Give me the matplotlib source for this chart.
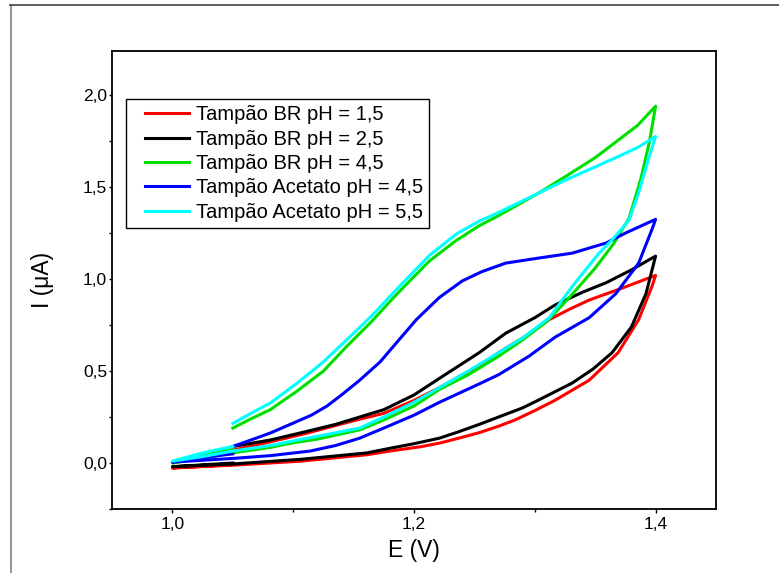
import matplotlib
matplotlib.use("Agg")
import matplotlib.pyplot as plt
from matplotlib.lines import Line2D
from matplotlib.legend_handler import HandlerLine2D
from matplotlib.ticker import MultipleLocator, FuncFormatter

plt.rcParams['font.family'] = ['Liberation Sans', 'DejaVu Sans']

# --- valores lidos do voltamograma (E em V, I em uA) ---
# varredura direta (1,05 -> 1,4)
e_ida_a = [1.05, 1.065, 1.081, 1.103, 1.125, 1.144, 1.165, 1.185, 1.213, 1.235,
           1.254, 1.27, 1.303, 1.326, 1.35, 1.367, 1.385, 1.40]
i_ida_ciano = [0.215, 0.27, 0.326, 0.433, 0.55, 0.668, 0.80, 0.94, 1.13, 1.245,
               1.315, 1.362, 1.467, 1.54, 1.61, 1.66, 1.715, 1.775]
i_ida_verde = [0.19, 0.24, 0.29, 0.39, 0.50, 0.632, 0.77, 0.913, 1.10, 1.21,
               1.29, 1.345, 1.467, 1.56, 1.66, 1.745, 1.835, 1.94]

e_ida_azul = [1.05, 1.065, 1.081, 1.10, 1.115, 1.128, 1.14, 1.155, 1.172, 1.185,
              1.202, 1.221, 1.24, 1.256, 1.276, 1.303, 1.331, 1.359, 1.375, 1.40]
i_ida_azul = [0.09, 0.125, 0.163, 0.217, 0.26, 0.31, 0.37, 0.45, 0.55, 0.65,
              0.78, 0.90, 0.99, 1.04, 1.087, 1.114, 1.141, 1.196, 1.25, 1.325]

e_ida_preto = [1.05, 1.081, 1.11, 1.135, 1.155, 1.175, 1.2, 1.221, 1.254, 1.276,
               1.30, 1.317, 1.34, 1.359, 1.38, 1.40]
i_ida_preto = [0.09, 0.125, 0.17, 0.21, 0.25, 0.29, 0.37, 0.46, 0.60, 0.706,
               0.79, 0.86, 0.93, 0.98, 1.05, 1.125]

e_ida_verm = [1.05, 1.081, 1.11, 1.15, 1.175, 1.2, 1.221, 1.254, 1.27, 1.29,
              1.312, 1.33, 1.345, 1.372, 1.40]
i_ida_verm = [0.07, 0.115, 0.16, 0.23, 0.27, 0.34, 0.41, 0.53, 0.60, 0.68,
              0.78, 0.84, 0.886, 0.95, 1.02]

# varredura reversa (1,4 -> 1,0)
e_volta_ciano = [1.40, 1.394, 1.386, 1.378, 1.365, 1.353, 1.331, 1.312, 1.29, 1.27,
                 1.245, 1.221, 1.2, 1.175, 1.155, 1.12, 1.10, 1.081, 1.05, 1.025, 1.0]
i_volta_ciano = [1.775, 1.65, 1.47, 1.32, 1.22, 1.14, 0.96, 0.79, 0.68, 0.60,
                 0.50, 0.41, 0.33, 0.25, 0.19, 0.145, 0.12, 0.095, 0.065, 0.035, 0.01]
e_volta_verde = [1.40, 1.395, 1.388, 1.378, 1.365, 1.35, 1.33, 1.31, 1.29, 1.27,
                 1.245, 1.221, 1.2, 1.175, 1.155, 1.12, 1.10, 1.081, 1.05, 1.025, 1.0]
i_volta_verde = [1.94, 1.75, 1.55, 1.33, 1.19, 1.06, 0.91, 0.77, 0.67, 0.58,
                 0.48, 0.40, 0.31, 0.234, 0.18, 0.13, 0.11, 0.085, 0.055, 0.025, 0.0]
e_volta_azul = [1.40, 1.397, 1.386, 1.367, 1.345, 1.317, 1.295, 1.27, 1.254, 1.221,
                1.2, 1.175, 1.155, 1.135, 1.114, 1.081, 1.05, 1.0]
i_volta_azul = [1.325, 1.27, 1.087, 0.92, 0.79, 0.685, 0.58, 0.48, 0.43, 0.33,
                0.26, 0.19, 0.135, 0.095, 0.065, 0.04, 0.025, 0.005]
e_volta_preto = [1.40, 1.392, 1.38, 1.364, 1.348, 1.331, 1.303, 1.29, 1.27, 1.254,
                 1.237, 1.221, 1.2, 1.18, 1.161, 1.106, 1.05, 1.0]
i_volta_preto = [1.125, 0.92, 0.74, 0.60, 0.51, 0.435, 0.342, 0.30, 0.25, 0.21,
                 0.17, 0.135, 0.105, 0.08, 0.055, 0.02, -0.005, -0.02]
e_volta_verm = [1.40, 1.397, 1.386, 1.369, 1.345, 1.317, 1.3, 1.284, 1.27, 1.254,
                1.237, 1.221, 1.205, 1.18, 1.161, 1.106, 1.05, 1.0]
i_volta_verm = [1.02, 0.96, 0.78, 0.60, 0.45, 0.342, 0.285, 0.235, 0.20, 0.165,
                0.135, 0.108, 0.088, 0.065, 0.045, 0.01, -0.012, -0.027]

# retorno curto (1,0 -> 1,05)
e_ret = [1.0, 1.025, 1.05]
i_ret_ciano = [0.01, 0.055, 0.09]
i_ret_verde = [0.0, 0.04, 0.075]
i_ret_azul = [0.005, 0.03, 0.05]
i_ret_preto = [-0.02, -0.01, 0.0]
i_ret_verm = [-0.027, -0.018, -0.008]

rotulos = ['Tampão BR pH = 1,5', 'Tampão BR pH = 2,5', 'Tampão BR pH = 4,5',
           'Tampão Acetato pH = 4,5', 'Tampão Acetato pH = 5,5']
cores = ['#ff0000', '#000000', '#00e000', '#0000ff', '#00ffff']

curvas = [
    (e_ida_verm, i_ida_verm, e_volta_verm, i_volta_verm, i_ret_verm),
    (e_ida_preto, i_ida_preto, e_volta_preto, i_volta_preto, i_ret_preto),
    (e_ida_a, i_ida_verde, e_volta_verde, i_volta_verde, i_ret_verde),
    (e_ida_azul, i_ida_azul, e_volta_azul, i_volta_azul, i_ret_azul),
    (e_ida_a, i_ida_ciano, e_volta_ciano, i_volta_ciano, i_ret_ciano),
]

fig = plt.figure(figsize=(7.79, 5.73), dpi=100)
ax = fig.add_axes([112 / 779, 64 / 573, 604 / 779, 458 / 573])

for (ex, ix, ev, iv, ir), cor, rot in zip(curvas, cores, rotulos):
    ax.plot(list(ex) + list(ev) + e_ret, list(ix) + list(iv) + ir,
            color=cor, lw=2.2, label=rot, solid_joinstyle='round')

ax.set_xlim(0.95, 1.45)
ax.set_ylim(-0.25, 2.24)
ax.xaxis.set_major_locator(MultipleLocator(0.2))
ax.xaxis.set_minor_locator(MultipleLocator(0.1))
ax.yaxis.set_major_locator(MultipleLocator(0.5))
ax.yaxis.set_minor_locator(MultipleLocator(0.25))
virgula = FuncFormatter(lambda v, p: f'{v:.1f}'.replace('.', ','))
ax.xaxis.set_major_formatter(virgula)
ax.yaxis.set_major_formatter(virgula)
ax.tick_params(axis='x', which='major', direction='out', length=3, width=1,
               labelsize=12.5, pad=3)
ax.tick_params(axis='y', which='major', direction='out', length=2.5, width=1,
               labelsize=12.5, pad=1)
ax.tick_params(which='minor', direction='out', length=2.5, width=1)
for s in ax.spines.values():
    s.set_linewidth(1.3)

ax.set_xlabel('E (V)', fontsize=16.5, labelpad=5)
ax.set_ylabel('I (μA)', fontsize=16.5, labelpad=21)

leg = ax.legend(loc='upper left', bbox_to_anchor=(0.023, 0.895), fontsize=14.5,
                frameon=True, fancybox=False, edgecolor='black', framealpha=1,
                borderpad=0.3, handlelength=2.84, handletextpad=0.35,
                labelspacing=0.27, borderaxespad=0,
                handler_map={Line2D: HandlerLine2D(xpad=0.65)})
leg.get_frame().set_linewidth(1.0)

# moldura externa da figura
fig.add_artist(Line2D([10.5 / 779, 10.5 / 779], [0, 1 - 5 / 573],
                      transform=fig.transFigure, color='#808080', lw=1.2))
fig.add_artist(Line2D([10 / 779, 1], [1 - 5 / 573, 1 - 5 / 573],
                      transform=fig.transFigure, color='#404040', lw=1.2))

fig.savefig('out.png', dpi=100)
